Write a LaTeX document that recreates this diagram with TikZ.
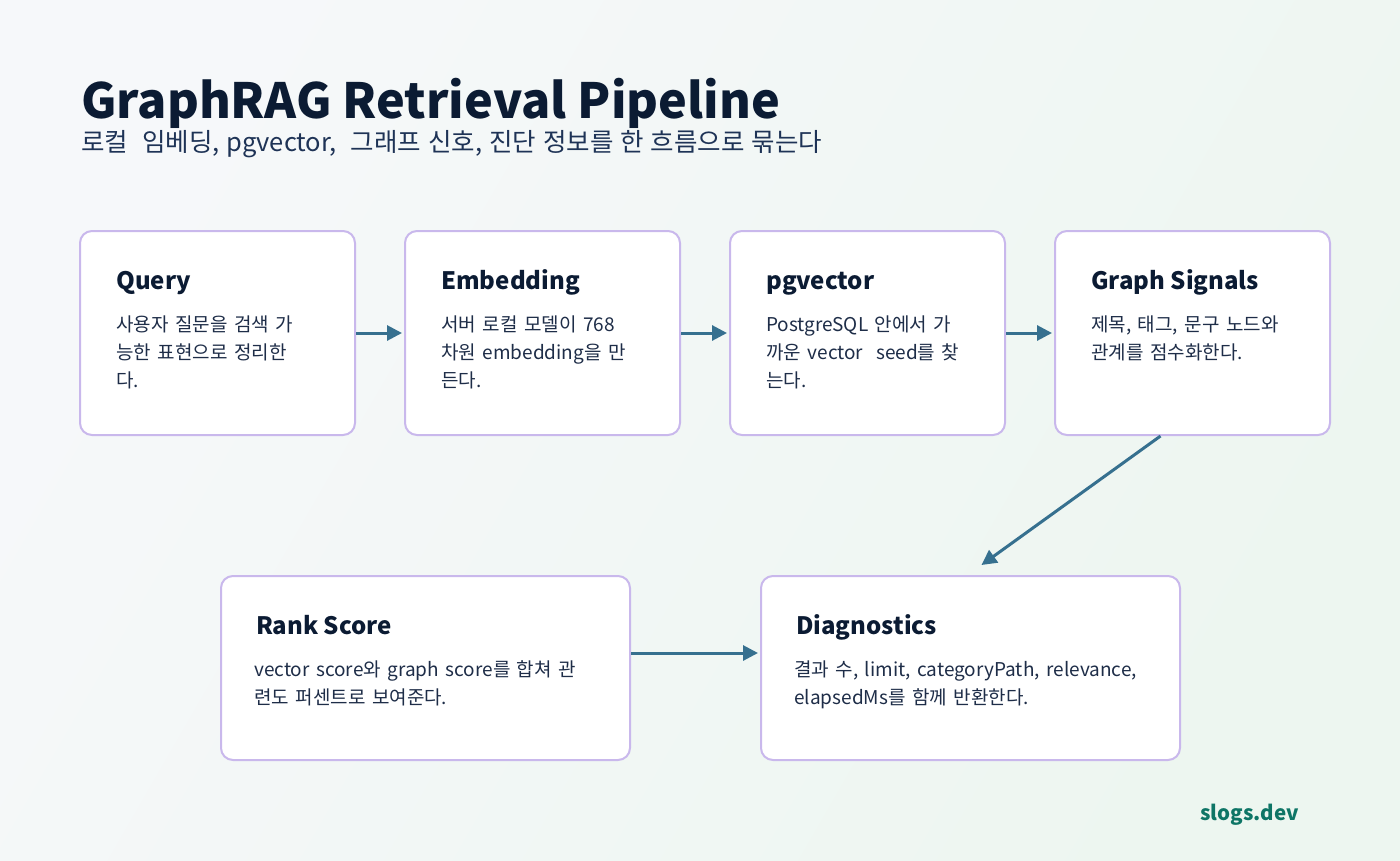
\documentclass[tikz,border=0pt]{standalone}
\usepackage{fontspec}
\setmainfont{Noto Sans CJK KR}
\usetikzlibrary{arrows.meta}
\definecolor{bgA}{HTML}{F6F8FA}
\definecolor{bgB}{HTML}{EDF6F0}
\definecolor{boxline}{HTML}{C9B8EC}
\definecolor{navy}{HTML}{0B1B33}
\definecolor{bodyc}{HTML}{1E2D48}
\definecolor{subc}{HTML}{1E3356}
\definecolor{arrowc}{HTML}{36708F}
\definecolor{teal}{HTML}{0E7566}
\newcommand\mybodyfont{\fontsize{19}{28}\selectfont\spaceskip=6.5pt plus 1pt\relax}
\newcommand\mysubfont{\fontsize{25.5}{28}\selectfont\spaceskip=7pt plus 1pt\relax}
\tikzset{
  card/.style={draw=boxline, line width=2pt, rounded corners=12pt, fill=white, inner sep=0pt},
  cardtitle/.style={anchor=base west, inner sep=0pt, font=\fontsize{24}{28}\selectfont\bfseries, text=navy},
  cardbody/.style={anchor=base west, inner sep=0pt, font=\mybodyfont, text=bodyc, align=left},
  flow/.style={draw=arrowc, line width=3pt, -{Triangle[length=15pt,width=15pt]}, shorten >=2pt}
}
\begin{document}
\begin{tikzpicture}[x=1pt,y=-1pt]
\useasboundingbox (0,0) rectangle (1400,860);
\shade[left color=bgA, right color=bgB, shading angle=60] (0,0) rectangle (1400,860);

\node[anchor=base west, inner sep=0pt, font=\fontsize{48.5}{56}\selectfont\bfseries, text=navy] (title) at (81,118) {GraphRAG Retrieval Pipeline};
\node[anchor=base west, inner sep=0pt, font=\mysubfont, text=subc] (subtitle) at (81,151) {로컬 \ 임베딩, pgvector, \ 그래프 신호, 진단 정보를 한 흐름으로 묶는다};

% top row cards
\node[card, minimum width=275pt, minimum height=204pt] (q) at (217.5,333) {};
\node[card, minimum width=275pt, minimum height=204pt] (e) at (542.5,333) {};
\node[card, minimum width=275pt, minimum height=204pt] (p) at (867.5,333) {};
\node[card, minimum width=275pt, minimum height=204pt] (g) at (1192.5,333) {};
% bottom row
\node[card, minimum width=409pt, minimum height=184pt] (r) at (425.5,668) {};
\node[card, minimum width=419pt, minimum height=184pt] (d) at (970.5,668) {};

\node[cardtitle] (qt) at (116,289) {Query};
\node[cardbody] (qb) at (116,387) {사용자 질문을 검색 가\\능한 표현으로 정리한\\다.};

\node[cardtitle] (et) at (441,289) {Embedding};
\node[cardbody] (eb) at (441,387) {서버 로컬 모델이 768\\차원 embedding을 만\\든다.};

\node[cardtitle] (pt) at (766,289) {pgvector};
\node[cardbody] (pb) at (766,387) {PostgreSQL 안에서 가\\까운 vector \ seed를 찾\\는다.};

\node[cardtitle] (gt) at (1091,289) {Graph Signals};
\node[cardbody] (gb) at (1091,359) {제목, 태그, 문구 노드와\\관계를 점수화한다.};

\node[cardtitle] (rt) at (256,634) {Rank Score};
\node[cardbody] (rb) at (254,704) {vector  score와 graph  score를 합쳐 관\\련도 퍼센트로 보여준다.};

\node[cardtitle] (dt) at (796,634) {Diagnostics};
\node[cardbody] (db) at (794,704) {결과 수, limit, categoryPath, relevance,\\elapsedMs를 함께 반환한다.};

% connectors
\draw[flow] (q.east) -- (e.west);
\draw[flow] (e.east) -- (p.west);
\draw[flow] (p.east) -- (g.west);
\draw[flow, shorten >=0pt] ([xshift=-32pt]g.south) -- ([xshift=11pt,yshift=10pt]d.north);
\draw[flow] ([yshift=15pt]r.east) -- ([yshift=15pt]d.west);

\node[anchor=base west, inner sep=0pt, font=\fontsize{20.5}{24}\selectfont\bfseries, text=teal] (foot) at (1200,820) {slogs.dev};
\end{tikzpicture}
\end{document}
